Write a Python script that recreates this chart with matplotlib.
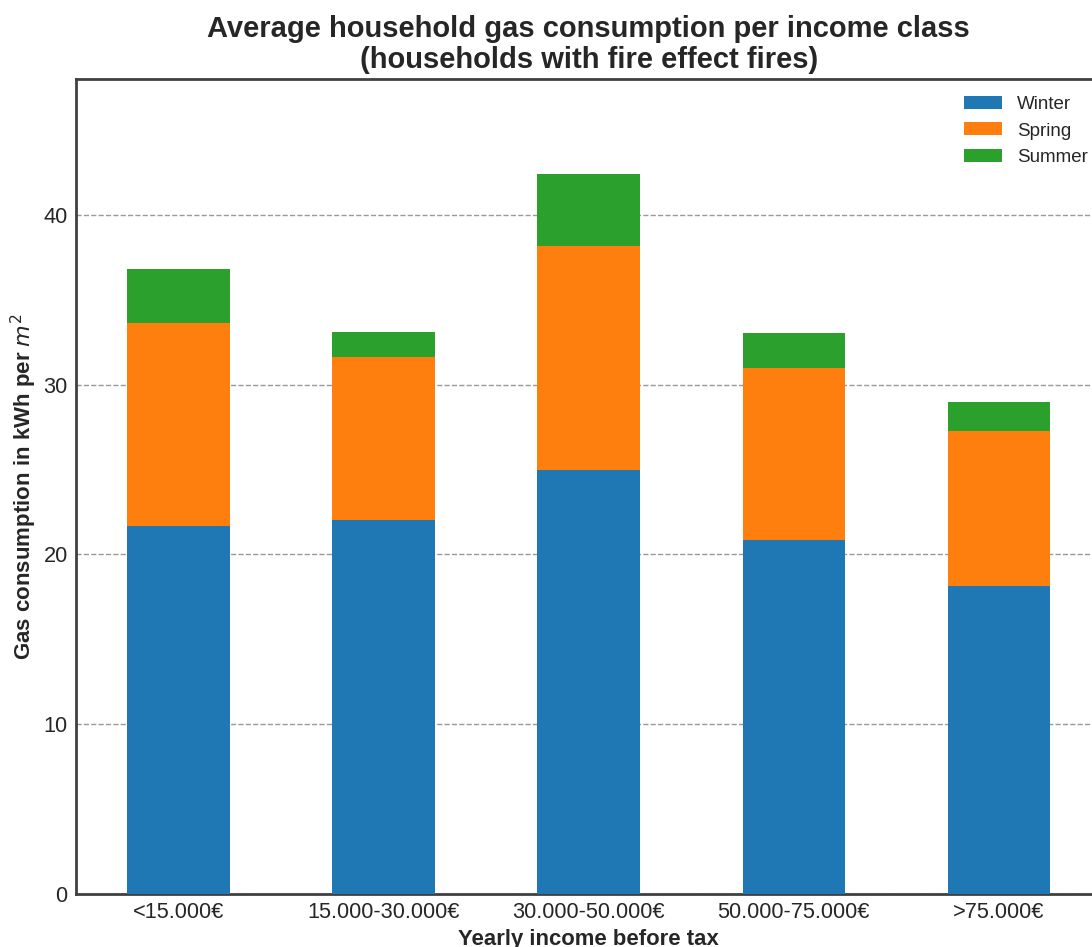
import matplotlib
matplotlib.use("Agg")
import matplotlib.pyplot as plt
import numpy as np

income_classes = ["<15.000€", "15.000-30.000€", "30.000-50.000€", "50.000-75.000€", ">75.000€"]
winter = [21.7, 22.0, 25.0, 20.85, 18.15]
spring = [11.9, 9.6, 13.15, 10.15, 9.1]
summer = [3.2, 1.5, 4.25, 2.05, 1.7]
seasons = ["Winter", "Spring", "Summer"]
colors = ["#1f77b4", "#ff7f0e", "#2ca02c"]

plt.rcParams["font.family"] = ["Liberation Sans", "DejaVu Sans"]
text_color = "#262626"

W, H = 1092, 947
fig = plt.figure(figsize=(W / 100, H / 100), dpi=100)
left, right, top, bottom = 76, 1101.5, 79, 894
ax = fig.add_axes([left / W, (H - bottom) / H, (right - left) / W, (bottom - top) / H])

x = np.arange(len(income_classes))
base = np.zeros(len(x))
for name, vals, c in zip(seasons, [winter, spring, summer], colors):
    ax.bar(x, vals, width=0.5, bottom=base, color=c, label=name, zorder=3)
    base += np.array(vals)

ax.set_xlim(-0.5, len(x) - 0.5)
ax.set_ylim(0, 48)
ax.set_yticks([0, 10, 20, 30, 40])
ax.set_xticks(x)
ax.set_xticklabels(income_classes)
ax.tick_params(axis="both", length=0, labelsize=15.7, labelcolor=text_color, pad=6)
ax.yaxis.grid(True, linestyle="--", color="#999999", linewidth=1.0, zorder=0)
ax.set_axisbelow(True)
for s in ax.spines.values():
    s.set_color("#404040")
    s.set_linewidth(2.0)

ax.set_title("Average household gas consumption per income class\n(households with fire effect fires)",
             fontsize=21, fontweight="bold", color=text_color, pad=8, linespacing=1.13)
ax.set_xlabel("Yearly income before tax", fontsize=15.9, fontweight="bold", color=text_color, labelpad=4)
ax.set_ylabel("Gas consumption in kWh per $m^2$", fontsize=16, fontweight="bold", color=text_color, labelpad=3)

leg = ax.legend(loc="upper right", frameon=False, fontsize=13.5, bbox_to_anchor=(1.003, 1.0))
for t in leg.get_texts():
    t.set_color(text_color)

fig.savefig("out.png", dpi=100)
